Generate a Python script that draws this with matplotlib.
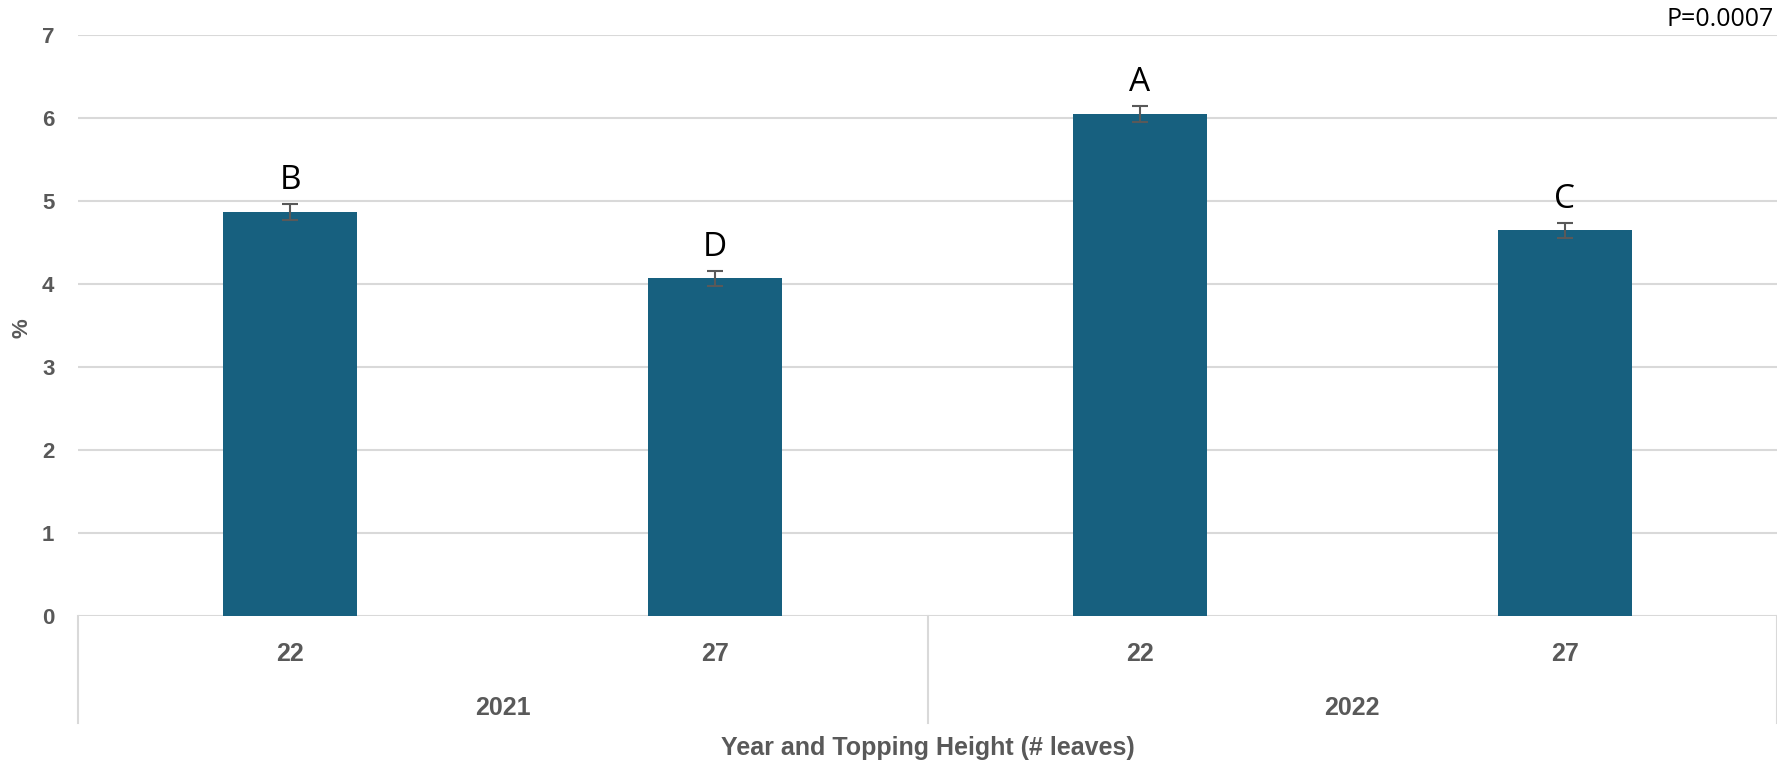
import matplotlib
matplotlib.use("Agg")
import matplotlib.pyplot as plt
import matplotlib.transforms as mtransforms
import numpy as np

# data
years = ["2021", "2022"]
heights = ["22", "27", "22", "27"]
values = [4.87, 4.07, 6.05, 4.65]
errors = [0.10, 0.09, 0.10, 0.09]
letters = ["B", "D", "A", "C"]
p_text = "P=0.0007"

bar_color = "#17607f"
tick_color = "#595959"
grid_color = "#d9d9d9"
narrow = ["Liberation Sans", "DejaVu Sans"]

fig = plt.figure(figsize=(17.77, 7.62), dpi=100)
ax = fig.add_axes([0.0439, 0.191, 1 - 0.0439, 0.954 - 0.191])

x = np.arange(len(values))
ax.bar(x, values, width=0.315, color=bar_color, zorder=3)
ax.errorbar(x, values, yerr=errors, fmt="none", ecolor=tick_color,
            elinewidth=1.5, capsize=6, capthick=1.5, zorder=4)

# significance letters above the error bars
for xi, v, e, lab in zip(x, values, errors, letters):
    ax.text(xi, v + e + 0.18, lab, ha="center", va="baseline",
            fontsize=24, family="Open Sans", color="black")

ax.set_xlim(-0.5, len(values) - 0.5)
ax.set_ylim(0, 7)
ax.set_yticks(range(0, 8))
ax.yaxis.grid(True, color=grid_color, linewidth=1.5, zorder=0)
ax.set_axisbelow(True)
for s in ax.spines.values():
    s.set_visible(False)
ax.tick_params(axis="y", length=0, pad=17, labelcolor=tick_color)
for t in ax.get_yticklabels():
    t.set_fontweight("bold")
    t.set_fontsize(16)
    t.set_family(narrow)
ax.set_xticks([])

# hierarchical category axis
trans = mtransforms.blended_transform_factory(ax.transData, ax.transAxes)
for xd in [-0.5, 1.5, 3.5]:
    ax.plot([xd, xd], [0, -0.183], transform=trans, color=grid_color,
            linewidth=1.5, clip_on=False)
for xi, h in zip(x, heights):
    ax.text(xi, -0.0645, h, transform=trans, ha="center", va="center",
            fontsize=18, fontweight="bold", color=tick_color, family=narrow)
for i, yr in enumerate(years):
    ax.text(2 * i + 0.5, -0.157, yr, transform=trans, ha="center", va="center",
            fontsize=18, fontweight="bold", color=tick_color, family=narrow)
ax.text(1.5, -0.226, "Year and Topping Height (# leaves)", transform=trans,
        ha="center", va="center", fontsize=18, fontweight="bold",
        color=tick_color, family=narrow)

fig.text(0.0125, 0.570, "%", rotation=90, ha="center", va="center",
         fontsize=16, fontweight="bold", color=tick_color, family=narrow)
fig.text(0.998, 0.975, p_text, ha="right", va="center", fontsize=18,
         family="Open Sans", color="black")

fig.savefig("out.png", dpi=100)
